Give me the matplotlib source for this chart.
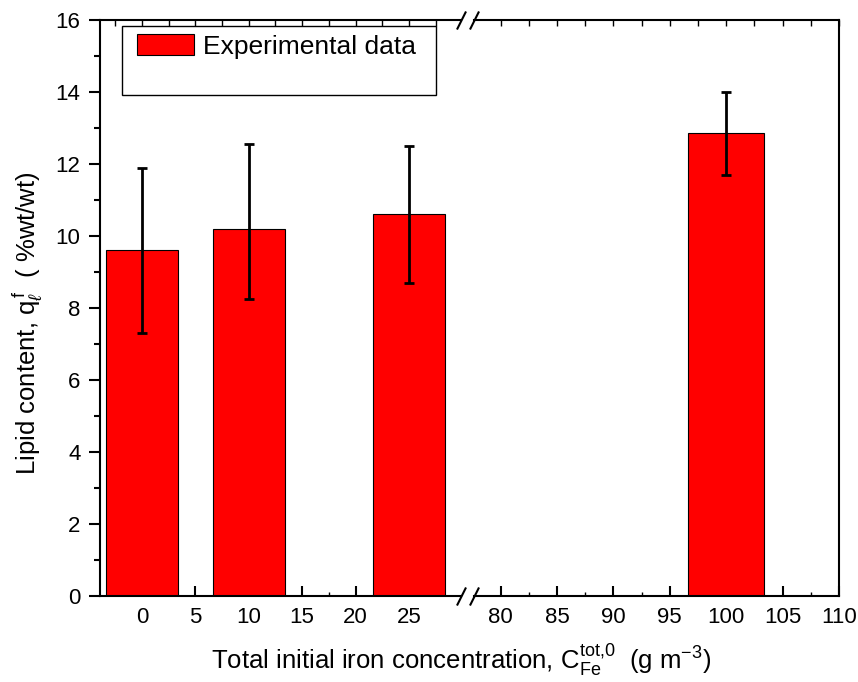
import numpy as np
import matplotlib
matplotlib.use("Agg")
import matplotlib.pyplot as plt
from matplotlib.ticker import MultipleLocator
from matplotlib.patches import Rectangle

# Datos
conc = [0, 10, 25, 100]
lipid = [9.6, 10.2, 10.6, 12.85]
err_low = [2.3, 1.95, 1.9, 1.15]
err_high = [2.3, 2.35, 1.9, 1.15]

left_ticks = [0, 5, 10, 15, 20, 25]
right_ticks = [80, 85, 90, 95, 100, 105, 110]

plt.rcParams['font.family'] = ['Liberation Sans', 'DejaVu Sans']
plt.rcParams['mathtext.fontset'] = 'custom'
plt.rcParams['mathtext.rm'] = 'Liberation Sans'
plt.rcParams['mathtext.it'] = 'Liberation Sans:italic'

W, H = 858, 682
fig = plt.figure(figsize=(W / 100, H / 100), dpi=100)

def box(x0, x1, y0=20, y1=596):
    return [x0 / W, 1 - y1 / H, (x1 - x0) / W, (y1 - y0) / H]

ax1 = fig.add_axes(box(100, 461))
ax2 = fig.add_axes(box(474, 839))

bar_w = 6.7
for ax, lo, hi in [(ax1, -3.93, 29.87), (ax2, 77.64, 110)]:
    idx = [i for i, c in enumerate(conc) if lo <= c <= hi]
    x = [conc[i] for i in idx]
    y = [lipid[i] for i in idx]
    e = [[err_low[i] for i in idx], [err_high[i] for i in idx]]
    ax.bar(x, y, width=bar_w, color='#ff0000', edgecolor='black', linewidth=0.8,
           label='Experimental data', zorder=2)
    ax.errorbar(x, y, yerr=e, fmt='none', ecolor='black', elinewidth=2,
                capsize=3.8, capthick=2, zorder=3)
    ax.set_xlim(lo, hi)
    ax.set_ylim(0, 16)
    for s in ax.spines.values():
        s.set_linewidth(1.5)
    ax.xaxis.set_major_locator(MultipleLocator(5))
    ax.xaxis.set_minor_locator(MultipleLocator(2.5))
    ax.tick_params(axis='x', which='major', direction='in', length=7, width=1.5,
                   labelsize=16, pad=8, top=False)
    ax.tick_params(axis='x', which='minor', direction='in', length=3, width=1,
                   top=False)
    # ticks arriba cada 2.5, hacia dentro
    sec = ax.secondary_xaxis('top')
    sec.xaxis.set_major_locator(MultipleLocator(2.5))
    sec.tick_params(direction='in', length=4, width=1, labeltop=False)
    sec.spines['top'].set_visible(False)

ax1.set_xticks(left_ticks)
ax2.set_xticks(right_ticks)

ax1.spines['right'].set_visible(False)
ax2.spines['left'].set_visible(False)

ax1.yaxis.set_major_locator(MultipleLocator(2))
ax1.yaxis.set_minor_locator(MultipleLocator(1))
ax1.tick_params(axis='y', which='major', direction='out', length=8, width=1.5,
                labelsize=16, pad=6)
ax1.tick_params(axis='y', which='minor', direction='out', length=4, width=1.5)
ax2.tick_params(axis='y', which='both', left=False, right=False, labelleft=False)

ax1.set_ylabel(r'Lipid content, $\mathrm{q}_{\ell}^{\,\mathrm{f}}$  ( %wt/wt)',
               fontsize=18.5)
ax1.yaxis.set_label_coords(-56 / 361, (596 - 323) / 576)

fig.text(461 / W, 1 - 670 / H,
         r'Total initial iron concentration, $\mathrm{C}_{\mathrm{Fe}}^{\mathrm{tot{,}0}}$  (g m$^{\mathrm{-3}}$)',
         fontsize=18.5, ha='center', va='baseline')

# marcas de corte
d = dict(marker=[(-0.5, -1), (0.5, 1)], markersize=13, linestyle='none',
         color='k', mec='k', mew=1.5, clip_on=False)
ax1.plot([1, 1], [0, 1], transform=ax1.transAxes, **d)
ax2.plot([0, 0], [0, 1], transform=ax2.transAxes, **d)

# leyenda
rect = Rectangle((122 / W, 1 - 95 / H), (436 - 122) / W, (95 - 26) / H,
                 transform=fig.transFigure, facecolor='white',
                 edgecolor='black', linewidth=1, zorder=5, clip_on=False)
ax1.add_artist(rect)
leg = ax1.legend(loc='upper left', bbox_to_anchor=(137 / W, 1 - 34 / H),
                 bbox_transform=fig.transFigure, frameon=False, fontsize=19,
                 handlelength=2.15, handleheight=0.85, handletextpad=0.35,
                 borderpad=0, borderaxespad=0)
leg.set_zorder(6)

fig.savefig('out.png', dpi=100)
